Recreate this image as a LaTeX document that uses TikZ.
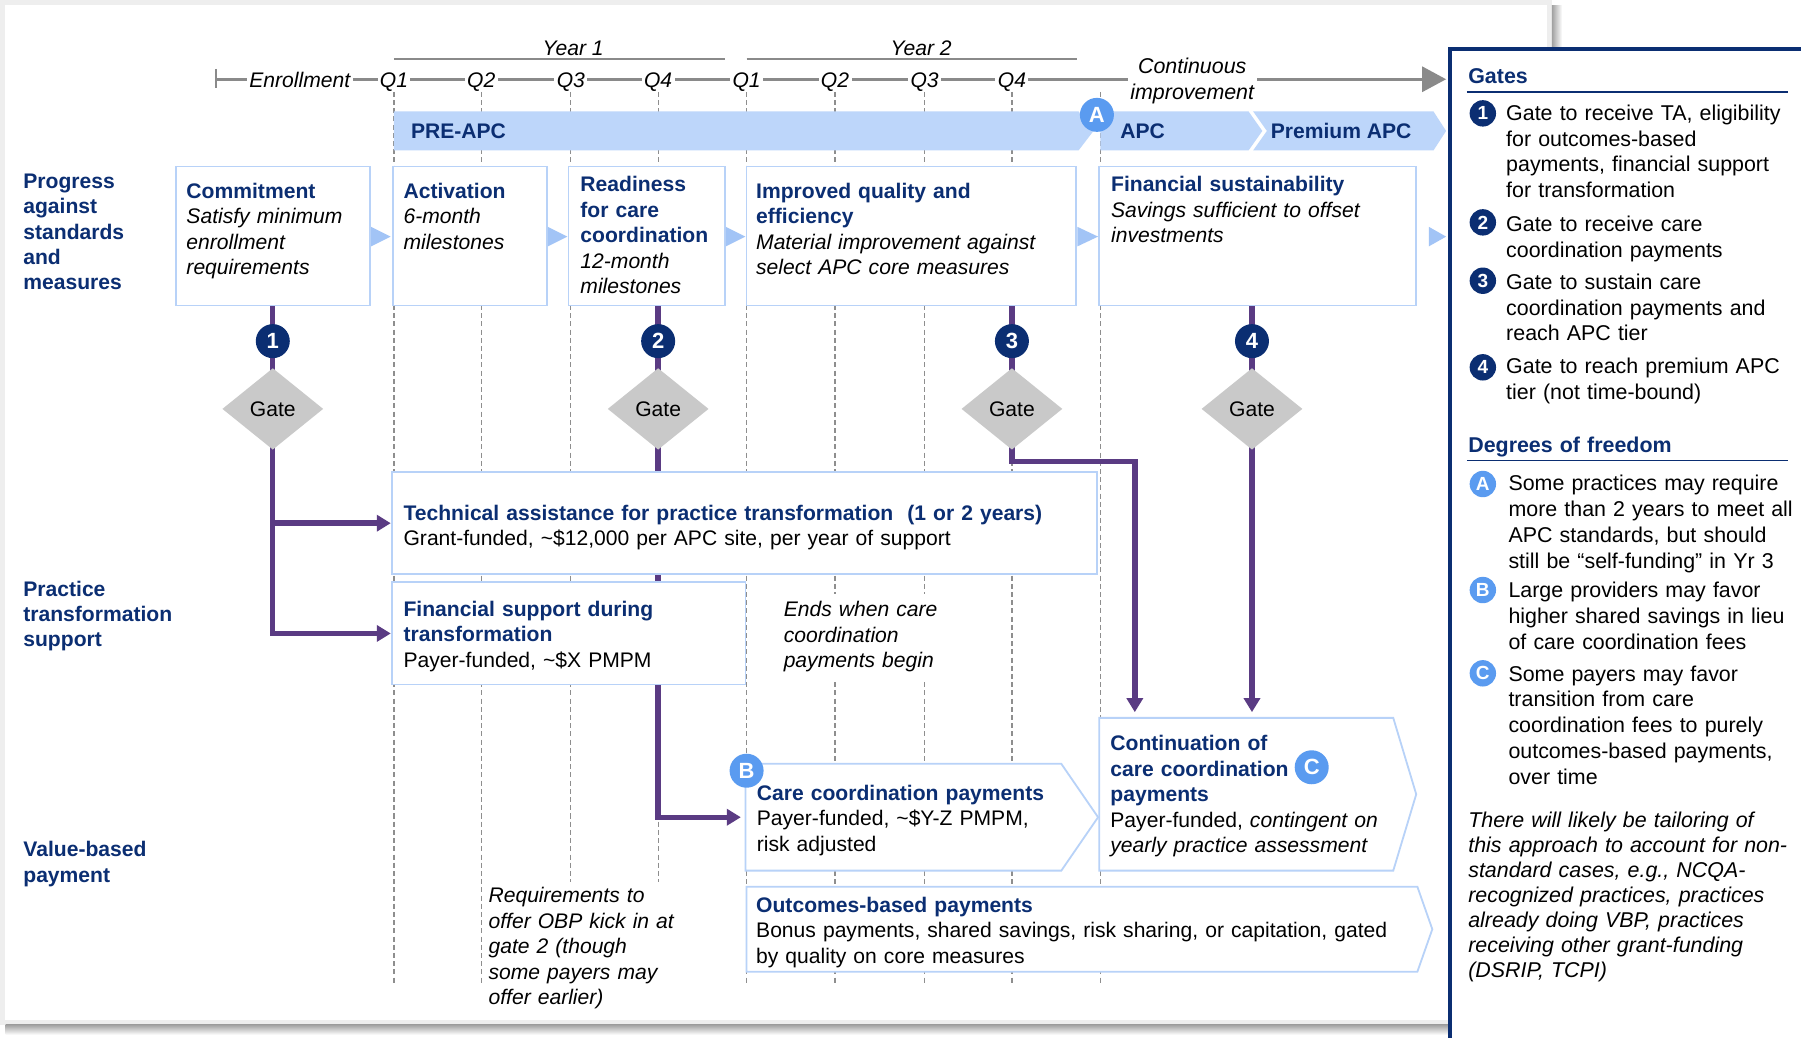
\documentclass[tikz,border=0pt]{standalone}
\usepackage{fontspec}
\setmainfont{Liberation Sans}
\usetikzlibrary{arrows.meta,shapes.geometric,fit,calc}

\definecolor{navy}{HTML}{0B2E72}
\definecolor{cblue}{HTML}{5A9BF0}
\definecolor{barblue}{HTML}{BDD6FA}
\definecolor{boxline}{HTML}{B8D2F8}
\definecolor{triblue}{HTML}{A2C4F6}
\definecolor{gategray}{HTML}{C9C9C9}
\definecolor{purp}{HTML}{5A3B83}
\definecolor{tgray}{HTML}{8A8A8A}
\definecolor{dgray}{HTML}{8E8E8E}
\definecolor{bandgray}{HTML}{EEEEEE}
\definecolor{shadowgray}{HTML}{A0A0A0}

\newcommand\fsz{\fontsize{10.55pt}{12.7pt}\selectfont}
\newcommand\fpan{\fontsize{10.7pt}{12.9pt}\selectfont}
\newcommand\nv[1]{{\bfseries\color{navy}#1}}

\pgfdeclarelayer{bglayer}
\pgfdeclarelayer{gridlayer}
\pgfdeclarelayer{wirelayer}
\pgfsetlayers{bglayer,gridlayer,wirelayer,main}

\begin{document}
\begin{tikzpicture}[x=0.5743pt,y=-0.5743pt,
  box/.style={draw=boxline,line width=0.9pt,fill=white,inner sep=0pt},
  pent/.style={draw=boxline,line width=0.9pt,fill=white},
  tx/.style={inner sep=0pt,anchor=base west,align=left,text width=#1,font=\fsz},
  tx/.default=200pt,
  lab/.style={tx,font=\fsz\bfseries,text=navy},
  ptx/.style={tx,font=\fpan},
  tl/.style={font=\fsz\itshape,fill=white,inner xsep=1.2pt,inner ysep=0pt,anchor=base},
  phase/.style={fill=barblue},
  bartx/.style={font=\fsz\bfseries,text=navy,inner sep=0pt,anchor=base west},
  chev/.style={fill=triblue},
  num/.style={circle,fill=navy,text=white,inner sep=0pt,minimum size=17pt,font=\fontsize{11pt}{11pt}\selectfont\bfseries},
  dof/.style={num,fill=cblue},
  pnum/.style={num,minimum size=13.2pt,font=\fontsize{9.5pt}{9.5pt}\selectfont\bfseries},
  pdof/.style={pnum,fill=cblue},
  gate/.style={diamond,fill=gategray,inner sep=0pt,minimum width=50.5pt,minimum height=40.8pt,font=\fsz},
  pline/.style={draw=purp,line width=2.7pt,-{Triangle[length=7pt,width=8pt]}},
  tline/.style={draw=tgray,line width=1.3pt},
  qline/.style={draw=dgray,line width=0.6pt,dash pattern=on 2.5pt off 1.6pt},
  hrule/.style={draw=navy,line width=0.8pt}
]
\useasboundingbox (0,0) rectangle (1568,903);

% slide frame with drop shadow
\begin{pgfonlayer}{bglayer}
  \fill[bandgray] (0,0) rectangle (1351,892);
  \shade[left color=shadowgray,right color=white] (1351,5) rectangle (1360,892);
  \shade[top color=shadowgray,bottom color=white] (5,892) rectangle (1360,901);
  \fill[white] (4.4,4.4) rectangle (1347,888);
\end{pgfonlayer}

% legend panel
\fill[white] (1262.5,42.5) rectangle (1570,905);
\draw[navy,line width=2pt] (1262.5,905) -- (1262.5,42.5) -- (1570,42.5);

% ---------- timeline ----------
\coordinate (tstart) at (188,69);
\coordinate (tend) at (1259,69);
\node[tl] (enr) at (261,76) {Enrollment};
\foreach \x/\q [count=\i] in {343/Q1,419/Q2,497/Q3,573/Q4,650/Q1,727/Q2,805/Q3,881/Q4}
  \node[tl] (q\i) at (\x,76) {\q};
\node[font=\fpan\itshape,align=center,text width=64.5pt,inner sep=0pt,fill=white,anchor=base] (cimp) at (1038,63.8) {Continuous\\improvement};
\node[font=\fsz\itshape,anchor=base,inner sep=0pt] (yr1) at (499,48) {Year 1};
\node[font=\fsz\itshape,anchor=base,inner sep=0pt] (yr2) at (802,48) {Year 2};

% ---------- phase bar ----------
\fill[phase] (343,97) -- (939,97) -- (952,114) -- (939,131) -- (343,131) -- cycle;
\fill[phase] (958,97) -- (1087,97) -- (1099,114) -- (1087,131) -- (958,131) -- cycle;
\fill[phase] (1091,97) -- (1248,97) -- (1259,114) -- (1248,131) -- (1091,131) -- (1103,114) -- cycle;
\node[bartx] (preapc) at (357.5,121) {PRE-APC};
\node[bartx] (apc) at (975,121) {APC};
\node[bartx] (papc) at (1106,121) {Premium APC};
\node[dof] (dA) at (955,100) {A};

% ---------- row labels ----------
\node[lab] (lprog) at (20,164) {Progress\\against\\standards\\and\\measures};
\node[lab] (lpts) at (20,519) {Practice\\transformation\\support};
\node[lab] (lvbp) at (20,746) {Value-based\\payment};

% ---------- milestone boxes ----------
\node[box,fit={(153,145) (322,266)}] (commit) {};
\node[box,fit={(342,145) (476,266)}] (activ) {};
\node[box,fit={(495,145) (631,266)}] (ready) {};
\node[box,fit={(650,145) (937,266)}] (improv) {};
\node[box,fit={(957,145) (1233,266)}] (finsus) {};

\fill[chev] (323,197.5) -- (340,206) -- (323,214.5) -- cycle;
\fill[chev] (477,197.5) -- (494,206) -- (477,214.5) -- cycle;
\fill[chev] (632,197.5) -- (649,206) -- (632,214.5) -- cycle;
\fill[chev] (938,197.5) -- (956,206) -- (938,214.5) -- cycle;
\fill[chev] (1244,197.5) -- (1259,206) -- (1244,214.5) -- cycle;

\node[tx] (tcommit) at (162,172.8) {\nv{Commitment}\\\itshape Satisfy minimum\\enrollment\\requirements};
\node[tx] (tactiv) at (351,172.8) {\nv{Activation}\\\itshape 6-month\\milestones};
\node[tx] (tready) at (505,167) {\nv{Readiness}\\\nv{for care}\\\nv{coordination}\\\itshape 12-month\\milestones};
\node[tx] (timprov) at (658,172.8) {\nv{Improved quality and}\\\nv{efficiency}\\\itshape Material improvement against\\select APC core measures};
\node[tx] (tfinsus) at (967,167) {\nv{Financial sustainability}\\\itshape Savings sufficient to offset\\investments};

% ---------- transformation support ----------
\node[box,fit={(341,411) (955,500)}] (ta) {};
\node[box,fit={(341,507) (649,596)}] (fsup) {};
\node[tx=360pt] (tta) at (351,453) {\nv{Technical assistance for practice transformation\ \ (1 or 2 years)}\\Grant-funded, \textasciitilde\$12,000 per APC site, per year of support};
\node[tx] (tfsup) at (351,536.5) {\nv{Financial support during}\\\nv{transformation}\\Payer-funded, \textasciitilde\$X PMPM};
\node[tx=80pt,font=\fsz\itshape,fill=white,inner ysep=4pt] (ends) at (682,537) {Ends when care\\coordination\\payments begin};

% ---------- value-based payment ----------
\draw[pent] (649,665) -- (924,665) -- (956,711.5) -- (924,758) -- (649,758) -- cycle;
\draw[pent] (957,625) -- (1213,625) -- (1233,691.5) -- (1213,758) -- (957,758) -- cycle;
\draw[pent] (650,772) -- (1234,772) -- (1247,809) -- (1234,846) -- (650,846) -- cycle;
\coordinate (ccpin) at (645,711.5);
\coordinate (c3in) at (988,620);
\coordinate (c4in) at (1090,620);
\node[tx] (tccp) at (658.6,696.7) {\nv{Care coordination payments}\\Payer-funded, \textasciitilde\$Y-Z PMPM,\\risk adjusted};
\node[tx] (tcont) at (966.4,653.7) {\nv{Continuation of}\\\nv{care coordination}\\\nv{payments}\\Payer-funded, \textit{contingent on}\\\textit{yearly practice assessment}};
\node[tx=340pt] (tobp) at (658,794.2) {\nv{Outcomes-based payments}\\Bonus payments, shared savings, risk sharing, or capitation, gated\\by quality on core measures};
\node[tx=100pt,font=\fsz\itshape,fill=white,inner ysep=3pt] (req) at (425,786) {Requirements to\\offer OBP kick in at\\gate 2 (though\\some payers may\\offer earlier)};
\node[dof] (dB) at (650,671) {B};
\node[dof] (dC) at (1142,668) {C};

% ---------- gates ----------
\node[num] (n1) at (237.5,297) {1};
\node[num] (n2) at (573,297) {2};
\node[num] (n3) at (881,297) {3};
\node[num] (n4) at (1090,297) {4};
\node[gate] (gate1) at (237.5,356) {Gate};
\node[gate] (gate2) at (573,356) {Gate};
\node[gate] (gate3) at (881,356) {Gate};
\node[gate] (gate4) at (1090,356) {Gate};

% ---------- legend ----------
\node[tx,font=\fpan\bfseries,text=navy] (hgates) at (1278,73) {Gates};
\draw[hrule] (1277,80) -- (1557,80);
\node[pnum] (p1) at (1291,98.7) {1};
\node[pnum] (p2) at (1291,193.6) {2};
\node[pnum] (p3) at (1291,244.4) {3};
\node[pnum] (p4) at (1291,319.8) {4};
\node[ptx] (tp1) at (1311,104.7) {Gate to receive TA, eligibility\\for outcomes-based\\payments, financial support\\for transformation};
\node[ptx] (tp2) at (1311,201.3) {Gate to receive care\\coordination payments};
\node[ptx] (tp3) at (1311,251.8) {Gate to sustain care\\coordination payments and\\reach APC tier};
\node[ptx] (tp4) at (1311,325.2) {Gate to reach premium APC\\tier (not time-bound)};
\node[tx,font=\fpan\bfseries,text=navy] (hdof) at (1278,394) {Degrees of freedom};
\draw[hrule] (1277,401) -- (1557,401);
\node[pdof] (pA) at (1291,421.4) {A};
\node[pdof] (pB) at (1291,513.7) {B};
\node[pdof] (pC) at (1291,586.2) {C};
\node[ptx] (tpA) at (1313,427.4) {Some practices may require\\more than 2 years to meet all\\APC standards, but should\\still be “self-funding” in Yr 3};
\node[ptx] (tpB) at (1313,520.5) {Large providers may favor\\higher shared savings in lieu\\of care coordination fees};
\node[ptx] (tpC) at (1313,593) {Some payers may favor\\transition from care\\coordination fees to purely\\outcomes-based payments,\\over time};
\node[tx,font=\fontsize{10.7pt}{12.5pt}\selectfont\itshape] (tnote) at (1278,720.5) {There will likely be tailoring of\\this approach to account for non-\\standard cases, e.g., NCQA-\\recognized practices, practices\\already doing VBP, practices\\receiving other grant-funding\\(DSRIP, TCPI)};

% ---------- quarter guide lines ----------
\begin{pgfonlayer}{gridlayer}
  \foreach \x in {343,419,497,573,650,727,805,881,958}
    \draw[qline] (\x,80) -- (\x,858);
\end{pgfonlayer}

% ---------- connectors ----------
\begin{pgfonlayer}{wirelayer}
  \draw[tline,-{Triangle[length=12pt,width=12.6pt]}] (tstart) -- (tend);
  \draw[tline] ($(tstart)+(0,-9)$) -- ($(tstart)+(0,8)$);
  \draw[draw=tgray,line width=1.1pt] (343,51.5) -- (631,51.5);
  \draw[draw=tgray,line width=1.1pt] (650,51.5) -- (938,51.5);
  \draw[pline] (commit.south) -- (commit.south |- fsup.west) -- (fsup.west);
  \draw[pline] (commit.south |- ta.west) -- (ta.west);
  \draw[pline] (n2 |- ready.south) -- (n2 |- ccpin) -- (ccpin);
  \draw[pline] (n3 |- improv.south) -- (gate3.center) -- ++(0,46) -| (c3in);
  \draw[pline] (n4 |- finsus.south) -- (c4in);
\end{pgfonlayer}
\end{tikzpicture}
\end{document}
